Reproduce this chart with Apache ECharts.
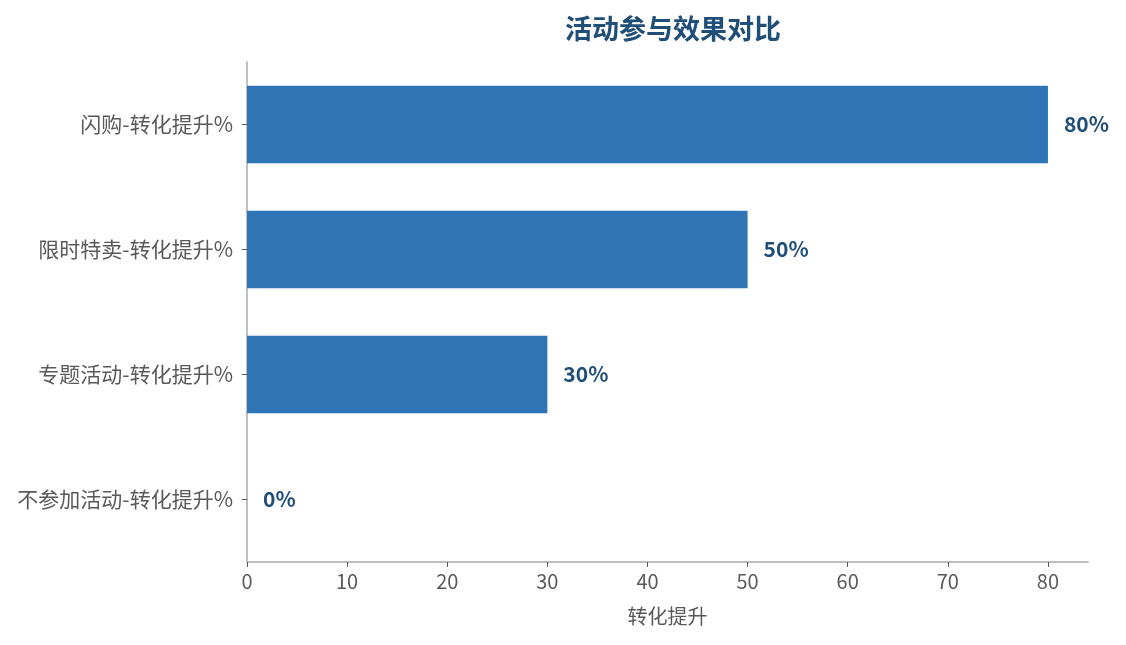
<!DOCTYPE html>
<html>
<head>
<meta charset="utf-8">
<script src="https://cdn.jsdelivr.net/npm/echarts@6/dist/echarts.min.js"></script>
<style>html,body{margin:0;padding:0;background:#fff}#c{width:1126px;height:645px}</style>
</head>
<body>
<div id="c"></div>
<script>
const categories = ['不参加活动-转化提升%', '专题活动-转化提升%', '限时特卖-转化提升%', '闪购-转化提升%'];
const values = [0, 30, 50, 80];
const xTicks = [0, 10, 20, 30, 40, 50, 60, 70, 80];

const font = '"Noto Sans CJK SC", "Noto Sans", sans-serif';
const chart = echarts.init(document.getElementById('c'));
chart.setOption({
  animation: false,
  title: {
    text: '活动参与效果对比',
    left: 668, top: 10, textAlign: 'center',
    textStyle: { color: '#1f4e79', fontSize: 27, fontWeight: 'bold', fontFamily: font }
  },
  grid: { left: 247, right: 38, top: 62, bottom: 83, containLabel: false },
  xAxis: {
    type: 'value', min: 0, max: 84, interval: 10,
    name: '转化提升', nameLocation: 'middle', nameGap: 44,
    nameTextStyle: { color: '#595959', fontSize: 20, fontFamily: font },
    axisLine: { show: true, lineStyle: { color: '#bfbfbf', width: 2 } },
    axisTick: { show: true, length: 5, lineStyle: { color: '#595959' }, customValues: xTicks },
    axisLabel: { color: '#595959', fontSize: 20, margin: 9, fontFamily: font, customValues: xTicks },
    splitLine: { show: false }
  },
  yAxis: {
    type: 'category', data: categories,
    axisLine: { show: true, lineStyle: { color: '#bfbfbf', width: 2 } },
    axisTick: { show: true, length: 5, alignWithLabel: true, lineStyle: { color: '#595959' } },
    axisLabel: { color: '#595959', fontSize: 21, margin: 14, fontFamily: font }
  },
  series: [{
    type: 'bar', data: values, barWidth: '62%',
    itemStyle: { color: '#2e75b6' },
    label: {
      show: true, position: 'right', distance: 16,
      formatter: p => p.value + '%',
      color: '#1f4e79', fontSize: 21, fontWeight: 'bold', fontFamily: font
    }
  }]
});
</script>
</body>
</html>
